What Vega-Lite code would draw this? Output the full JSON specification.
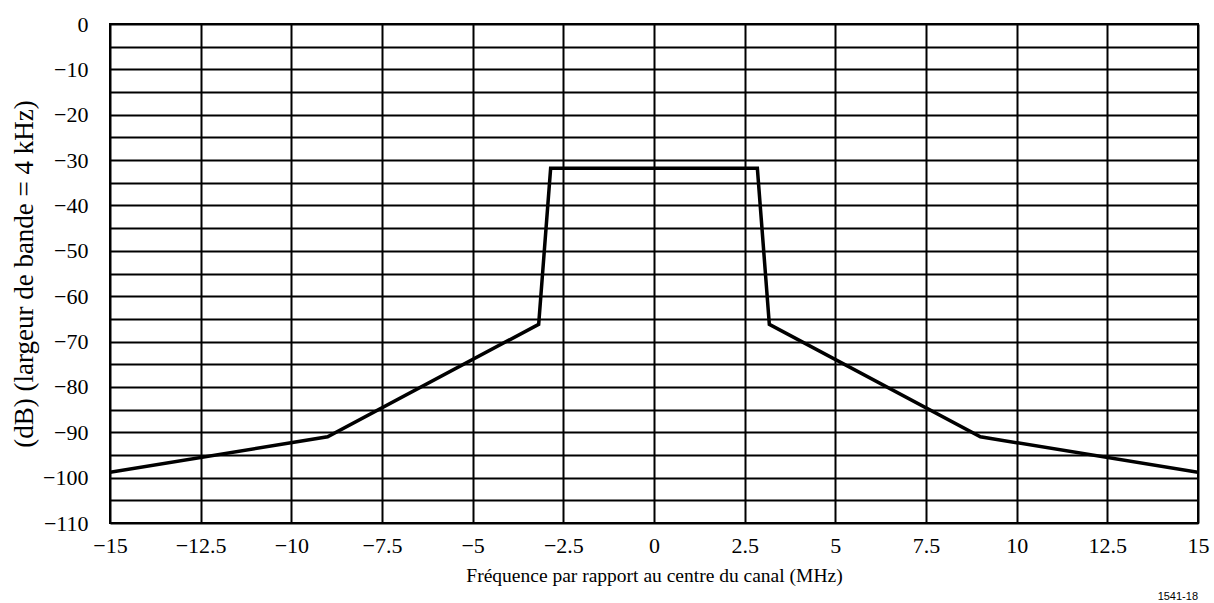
{
  "$schema": "https://vega.github.io/schema/vega-lite/v6.json",
  "autosize": {"type": "none"},
  "padding": {"left": 110, "top": 24, "right": 16, "bottom": 80},
  "width": 1088,
  "height": 499,
  "background": "white",
  "config": {
    "font": "Liberation Serif",
    "view": {"stroke": "black", "strokeWidth": 2},
    "axis": {
      "grid": true,
      "gridColor": "black",
      "gridWidth": 2,
      "gridOpacity": 1,
      "domain": false,
      "ticks": false,
      "tickSize": 0,
      "labelFont": "Liberation Serif",
      "labelFontSize": 22,
      "labelColor": "black",
      "titleFont": "Liberation Serif",
      "titleFontWeight": "normal",
      "titleColor": "black"
    }
  },
  "title": {
    "text": "1541-18",
    "orient": "bottom",
    "anchor": "end",
    "frame": "group",
    "font": "Liberation Sans",
    "fontSize": 11,
    "fontWeight": "normal",
    "color": "black",
    "offset": 6
  },
  "data": {
    "values": [
      {"f": -15, "db": -98.8},
      {"f": -9, "db": -91},
      {"f": -3.18, "db": -66.2},
      {"f": -2.85, "db": -31.8},
      {"f": 2.85, "db": -31.8},
      {"f": 3.18, "db": -66.2},
      {"f": 9, "db": -91},
      {"f": 15, "db": -98.8}
    ]
  },
  "mark": {"type": "line", "color": "black", "strokeWidth": 3.5, "strokeJoin": "miter", "clip": true},
  "encoding": {
    "x": {
      "field": "f",
      "type": "quantitative",
      "sort": null,
      "scale": {"domain": [-15, 15], "nice": false, "zero": false},
      "axis": {
        "values": [-15, -12.5, -10, -7.5, -5, -2.5, 0, 2.5, 5, 7.5, 10, 12.5, 15],
        "format": ".1~f",
        "labelPadding": 12,
        "labelFlush": false,
        "title": "Fréquence par rapport au centre du canal (MHz)",
        "titleFontSize": 19.5,
        "titlePadding": 10
      }
    },
    "y": {
      "field": "db",
      "type": "quantitative",
      "scale": {"domain": [-110, 0], "nice": false, "zero": false},
      "axis": {
        "values": [-110, -105, -100, -95, -90, -85, -80, -75, -70, -65, -60, -55, -50, -45, -40, -35, -30, -25, -20, -15, -10, -5, 0],
        "labelExpr": "datum.value % 10 === 0 ? format(datum.value, '~g') : ''",
        "labelPadding": 22,
        "labelFlush": false,
        "title": "(dB) (largeur de bande = 4 kHz)",
        "titleFontSize": 27,
        "titlePadding": 4
      }
    },
    "order": {"field": "f", "type": "quantitative"}
  }
}
